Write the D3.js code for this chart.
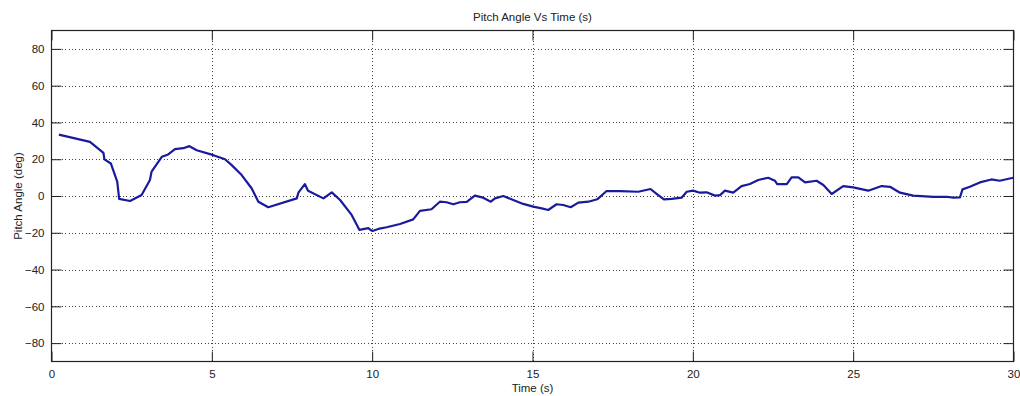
<!DOCTYPE html>
<html>
<head>
<meta charset="utf-8">
<script src="https://cdn.jsdelivr.net/npm/d3@7"></script>
<style>
  html, body { margin: 0; padding: 0; background: #fff; }
  svg text { font-family: "Liberation Sans", Arial, sans-serif; fill: #222; }
</style>
</head>
<body>
<svg id="chart" width="1020" height="396"></svg>
<script>
// Pitch angle samples: time (s) and angle (deg)
const time = [0.23, 1.2, 1.62, 1.65, 1.85, 2.05, 2.11, 2.45, 2.81, 3.07, 3.12, 3.44, 3.64, 3.85, 4.11, 4.3,
  4.53, 5.05, 5.41, 5.62, 5.93, 6.24, 6.45, 6.76, 7.65, 7.7, 7.9, 8.0, 8.48, 8.74, 9.0, 9.36, 9.6, 9.88,
  9.98, 10.01, 10.19, 10.45, 10.87, 11.28, 11.49, 11.85, 12.11, 12.32, 12.53, 12.74, 12.95, 13.2, 13.46,
  13.7, 13.83, 14.09, 14.4, 14.71, 15.02, 15.29, 15.49, 15.75, 15.96, 16.19, 16.43, 16.74, 17.02, 17.31,
  17.73, 18.3, 18.68, 18.85, 19.1, 19.34, 19.65, 19.81, 20.01, 20.22, 20.43, 20.69, 20.85, 21.0, 21.26,
  21.52, 21.78, 22.04, 22.35, 22.56, 22.63, 22.93, 23.08, 23.29, 23.5, 23.86, 24.07, 24.33, 24.69, 25.0,
  25.47, 25.89, 26.15, 26.46, 26.87, 27.5, 27.91, 28.12, 28.33, 28.41, 28.64, 28.95, 29.31, 29.57, 29.99];
const pitch = [33.4, 29.4, 23.5, 19.9, 17.7, 7.8, -1.6, -2.7, 0.5, 8.7, 13.2, 21.3, 22.6, 25.5, 26.0, 27.1,
  24.9, 22.2, 20.0, 16.8, 11.4, 4.2, -3.1, -6.1, -1.3, 1.8, 6.5, 2.9, -1.3, 2.0, -2.2, -10.3, -18.4, -17.5,
  -18.8, -19.0, -17.9, -17.0, -15.2, -12.7, -8.1, -7.2, -3.1, -3.4, -4.5, -3.4, -3.2, 0.2, -0.9,
  -3.1, -1.3, 0.0, -2.2, -4.3, -5.8, -6.7, -7.6, -4.5, -4.9, -6.1, -3.6, -3.1, -1.8, 2.7,
  2.7, 2.3, 3.8, 1.4, -1.8, -1.6, -0.9, 2.3, 2.9, 1.8, 2.0, 0.2, 0.5, 2.9, 1.8,
  5.4, 6.5, 8.7, 9.9, 8.3, 6.5, 6.5, 10.1, 10.1, 7.4, 8.3, 6.0, 1.1, 5.4, 4.7,
  2.9, 5.4, 5.0, 1.8, 0.2, -0.5, -0.4, -0.9, -0.7, 3.6, 5.0, 7.4, 9.0, 8.3, 9.9];

const xTicks = [0, 5, 10, 15, 20, 25, 30];
const yTicks = [-80, -60, -40, -20, 0, 20, 40, 60, 80];
const xDomain = [0, 30];
const yDomain = [-90, 90];

const svg = d3.select("#chart");
const plotLeft = 51.5, plotRight = 1013.5, plotTop = 30.5, plotBottom = 361.5;
const fontSize = 11.5;

const x = d3.scaleLinear().domain(xDomain).range([plotLeft, plotRight]);
const y = d3.scaleLinear().domain(yDomain).range([plotBottom, plotTop]);

// white plot background
svg.append("rect").attr("x", plotLeft).attr("y", plotTop)
  .attr("width", plotRight - plotLeft).attr("height", plotBottom - plotTop).attr("fill", "#fff");

// dotted grid
const grid = svg.append("g").attr("stroke", "#444").attr("stroke-width", 1)
  .attr("stroke-dasharray", "1,2.4").attr("shape-rendering", "crispEdges");
grid.selectAll("line.gx").data(xTicks.slice(1, -1)).join("line")
  .attr("x1", d => Math.round(x(d)) + 0.5).attr("x2", d => Math.round(x(d)) + 0.5)
  .attr("y1", plotTop).attr("y2", plotBottom);
grid.selectAll("line.gy").data(yTicks).join("line")
  .attr("y1", d => Math.round(y(d)) + 0.5).attr("y2", d => Math.round(y(d)) + 0.5)
  .attr("x1", plotLeft).attr("x2", plotRight);

// axes with inward ticks on all four sides
const tickLen = 10;
function styleAxis(g) {
  g.select(".domain").remove();
  g.selectAll(".tick line").attr("stroke", "#222");
  g.selectAll(".tick text").attr("font-size", fontSize).style("fill", "#222");
}
svg.append("g").attr("transform", `translate(0,${plotBottom})`)
  .call(d3.axisBottom(x).tickValues(xTicks).tickSizeInner(-tickLen).tickSizeOuter(0).tickPadding(8))
  .call(styleAxis);
svg.append("g").attr("transform", `translate(0,${plotTop})`)
  .call(d3.axisTop(x).tickValues(xTicks).tickSizeInner(-tickLen).tickSizeOuter(0).tickFormat(""))
  .call(styleAxis);
svg.append("g").attr("transform", `translate(${plotLeft},0)`)
  .call(d3.axisLeft(y).tickValues(yTicks).tickSizeInner(-tickLen).tickSizeOuter(0).tickPadding(7))
  .call(styleAxis);
svg.append("g").attr("transform", `translate(${plotRight},0)`)
  .call(d3.axisRight(y).tickValues(yTicks).tickSizeInner(-tickLen).tickSizeOuter(0).tickFormat(""))
  .call(styleAxis);

// plot frame
svg.append("rect").attr("x", plotLeft).attr("y", plotTop)
  .attr("width", plotRight - plotLeft).attr("height", plotBottom - plotTop)
  .attr("fill", "none").attr("stroke", "#222").attr("stroke-width", 1.2);

// pitch trace
const series = time.map((t, i) => [t, pitch[i]]);
svg.append("path").datum(series)
  .attr("fill", "none").attr("stroke", "#1a1a9c").attr("stroke-width", 2.2)
  .attr("stroke-linejoin", "round")
  .attr("d", d3.line().x(d => x(d[0])).y(d => y(d[1])));

// titles
svg.append("text").attr("x", (plotLeft + plotRight) / 2).attr("y", 21)
  .attr("text-anchor", "middle").attr("font-size", fontSize).text("Pitch Angle Vs Time (s)");
svg.append("text").attr("x", (plotLeft + plotRight) / 2).attr("y", 392)
  .attr("text-anchor", "middle").attr("font-size", fontSize).text("Time (s)");
svg.append("text").attr("transform", `translate(22,${(plotTop + plotBottom) / 2}) rotate(-90)`)
  .attr("text-anchor", "middle").attr("font-size", fontSize).text("Pitch Angle (deg)");
</script>
</body>
</html>
